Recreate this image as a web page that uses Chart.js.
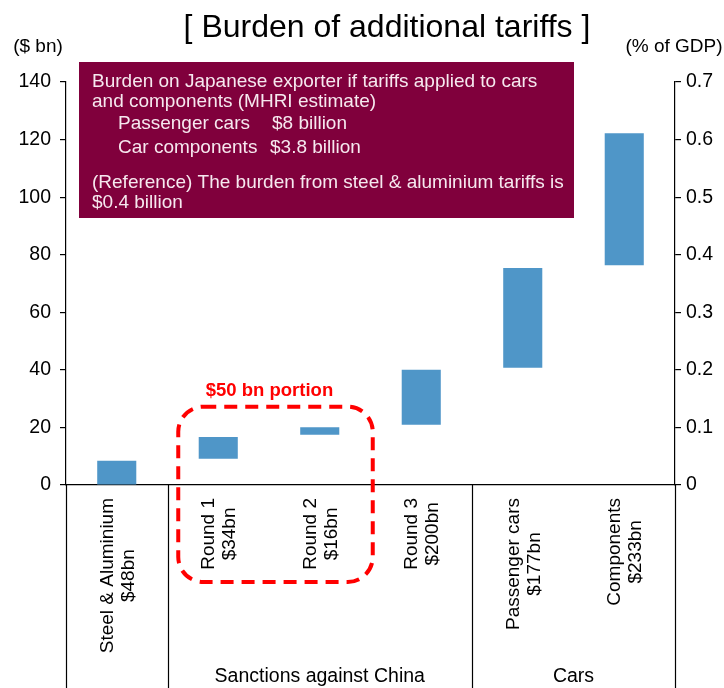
<!DOCTYPE html>
<html>
<head>
<meta charset="utf-8">
<title>Burden of additional tariffs</title>
<script src="https://cdn.jsdelivr.net/npm/chart.js@4"></script>
<style>
    html, body { margin: 0; padding: 0; background: #fff; }
    #wrap { width: 724px; height: 688px; position: relative; }
</style>
</head>
<body>
<div id="wrap"><canvas id="tariffChart"></canvas></div>
<script>
/* data */
var categories = [
    ['Steel & Aluminium', '$48bn'],
    ['Round 1', '$34bn'],
    ['Round 2', '$16bn'],
    ['Round 3', '$200bn'],
    ['Passenger cars', '$177bn'],
    ['Components', '$233bn']
];
var barStart = [0, 9.1, 17.5, 20.9, 40.7, 76.3];
var barEnd = [8.4, 16.7, 20.1, 40.0, 75.4, 122.2];
var leftMax = 140;
var leftStep = 20;
var rightMax = 0.7;
var rightStep = 0.1;
var groupNames = ['Sanctions against China', 'Cars'];
var groupFrom = [1, 4];
var groupTo = [3, 5];
var dividerAt = [0, 1, 4, 6];
var noteLines = [
    'Burden on Japanese exporter if tariffs applied to cars',
    'and components (MHRI estimate)',
    'Passenger cars',
    'Car components',
    '(Reference) The burden from steel & aluminium tariffs is',
    '$0.4 billion'
];
var noteAmounts = ['', '', '$8 billion', '$3.8 billion', '', ''];

(function () {
    'use strict';

    var FONT = '"Liberation Sans", Arial, sans-serif';
    var BAR = '#4f96c8';
    var NOTE_BG = '#80003c';

    Chart.defaults.font.family = FONT;
    Chart.defaults.color = '#000';

    /* rotated category labels: lines centred on each other, like the original */
    function drawCategoryLabels(chart) {
        var ctx = chart.ctx;
        var x = chart.scales.x;
        var top = chart.chartArea.bottom + 13;
        var lh = 21;
        ctx.save();
        ctx.fillStyle = '#000';
        ctx.font = '19px ' + FONT;
        ctx.textAlign = 'center';
        ctx.textBaseline = 'middle';
        categories.forEach(function (lines, i) {
            var maxW = 0;
            lines.forEach(function (t) { maxW = Math.max(maxW, ctx.measureText(t).width); });
            ctx.save();
            ctx.translate(x.getPixelForValue(i) + 1.5, top);
            ctx.rotate(-Math.PI / 2);
            lines.forEach(function (t, k) {
                ctx.fillText(t, -maxW / 2, (k - (lines.length - 1) / 2) * lh);
            });
            ctx.restore();
        });
        ctx.restore();
    }

    var decor = {
        id: 'decor',
        afterDraw: function (chart) {
            var ctx = chart.ctx;
            var x = chart.scales.x;
            var y = chart.scales.y;
            var area = chart.chartArea;
            var half = (x.getPixelForValue(1) - x.getPixelForValue(0)) / 2;

            drawCategoryLabels(chart);

            ctx.save();
            // title + axis titles
            ctx.fillStyle = '#000';
            ctx.textAlign = 'center';
            ctx.textBaseline = 'middle';
            ctx.font = '32px ' + FONT;
            ctx.fillText('[ Burden of additional tariffs ]', 387, 28);
            ctx.font = '19px ' + FONT;
            ctx.fillText('($ bn)', 38, 47);
            ctx.fillText('(% of GDP)', 674, 47);

            // group dividers below the axis
            ctx.strokeStyle = '#000';
            ctx.lineWidth = 1.2;
            dividerAt.forEach(function (b) {
                var px = Math.round(x.getPixelForValue(b) - half) + 0.5;
                ctx.beginPath();
                ctx.moveTo(px, area.bottom);
                ctx.lineTo(px, chart.height);
                ctx.stroke();
            });
            ctx.font = '19.5px ' + FONT;
            groupNames.forEach(function (name, i) {
                var cx = (x.getPixelForValue(groupFrom[i]) + x.getPixelForValue(groupTo[i])) / 2;
                ctx.fillText(name, cx, 677);
            });

            // note box
            ctx.fillStyle = NOTE_BG;
            ctx.fillRect(79, 62, 495, 156);
            ctx.fillStyle = '#f6e8ef';
            ctx.textAlign = 'left';
            ctx.font = '19px ' + FONT;
            var lineY = [82, 102, 124, 148, 183, 203];
            noteLines.forEach(function (t, i) {
                var lx = (i === 2 || i === 3) ? 118 : 92;
                ctx.fillText(t, lx, lineY[i]);
                if (noteAmounts[i]) ctx.fillText(noteAmounts[i], i === 2 ? 272 : 270, lineY[i]);
            });

            // "$50 bn portion" dashed outline around rounds 1 and 2
            var left = x.getPixelForValue(1) - 40;
            var right = x.getPixelForValue(2) + 53;
            var top = y.getPixelForValue(27.2);
            var bottom = area.bottom + 97;
            ctx.strokeStyle = '#ff0000';
            ctx.lineWidth = 4;
            ctx.setLineDash([13, 8]);
            ctx.beginPath();
            ctx.roundRect(left, top, right - left, bottom - top, 25);
            ctx.stroke();
            ctx.setLineDash([]);
            ctx.fillStyle = '#ff0000';
            ctx.textAlign = 'center';
            ctx.font = 'bold 18.5px ' + FONT;
            ctx.fillText('$50 bn portion', (left + right) / 2 - 6, 391);
            ctx.restore();
        }
    };

    var ctx = document.getElementById('tariffChart');
    new Chart(ctx, {
        type: 'bar',
        data: {
            labels: categories,
            datasets: [{
                label: 'Burden',
                data: barStart.map(function (s, i) { return [s, barEnd[i]]; }),
                backgroundColor: BAR,
                borderWidth: 0,
                barPercentage: 0.385,
                categoryPercentage: 1.0,
                yAxisID: 'y'
            }]
        },
        options: {
            responsive: true, maintainAspectRatio: false,
            animation: false,
            layout: { padding: { top: 82, left: 0, right: 0, bottom: 0 } },
            plugins: {
                legend: { display: false },
                tooltip: { enabled: false }
            },
            scales: {
                x: {
                    grid: { display: false, drawTicks: false },
                    border: { display: true, color: '#000', width: 1.2 },
                    ticks: { display: false },
                    afterFit: function (s) { s.height = 203; }
                },
                y: {
                    position: 'left',
                    min: 0, max: leftMax,
                    grid: { drawOnChartArea: false, drawTicks: true, tickLength: 6, color: '#000', lineWidth: 1.2 },
                    border: { display: true, color: '#000', width: 1.2 },
                    ticks: { stepSize: leftStep, padding: 9, color: '#000', font: { size: 19.5 } },
                    afterFit: function (s) { s.width = 66; }
                },
                y1: {
                    position: 'right',
                    min: 0, max: rightMax,
                    grid: { drawOnChartArea: false, drawTicks: true, tickLength: 6, color: '#000', lineWidth: 1.2 },
                    border: { display: true, color: '#000', width: 1.2 },
                    ticks: { stepSize: rightStep, padding: 5, color: '#000', font: { size: 19.5 } },
                    afterFit: function (s) { s.width = 49; }
                }
            }
        },
        plugins: [decor]
    });
})();
</script>
</body>
</html>
